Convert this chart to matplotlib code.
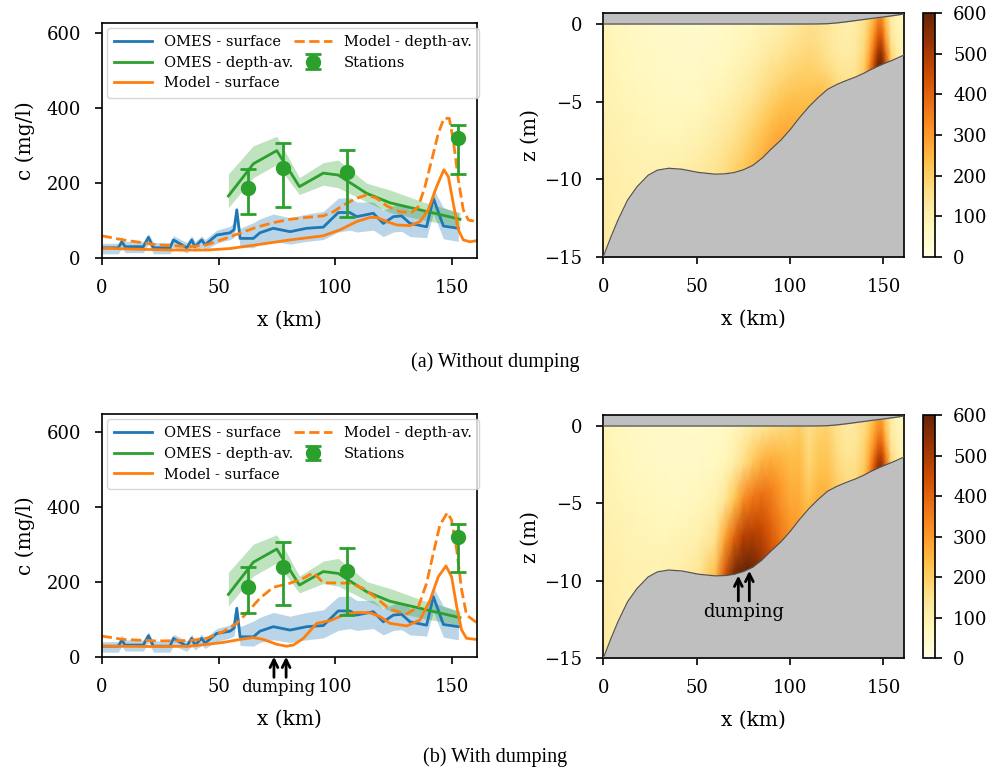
import numpy as np
import matplotlib
matplotlib.use('Agg')
import matplotlib.pyplot as plt

plt.rcParams['font.family'] = ['DejaVu Serif']
plt.rcParams['mathtext.fontset'] = 'dejavuserif'

# ---------------- line-plot data ----------------
omes_surf_x = [0, 7.1, 8.6, 10, 17.8, 20, 22.1, 29.2, 30.7, 36.4, 38.5, 39.9, 42.8, 44.2, 49.2,
               54.9, 56.6, 57.8, 59.2, 64.9, 67.7, 73.4, 80.6, 87.7, 94.8, 101.2, 106.2, 109.1,
               116.2, 120.5, 124.8, 128.3, 131.9, 139, 141.9, 146.2, 152.6]
omes_surf_c = [28, 28, 44, 31, 31, 56, 28, 28, 49, 28, 49, 31, 49, 36, 62,
               68, 76, 129, 53, 53, 68, 80, 71, 80, 83, 122, 122, 111,
               120, 93, 111, 113, 93, 84, 160, 86, 80]
omes_surf_hi = [40, 40, 58, 45, 45, 66, 42, 42, 60, 42, 60, 45, 60, 50, 75,
                85, 95, 140, 80, 95, 105, 118, 108, 118, 125, 160, 162, 150,
                150, 128, 140, 145, 130, 125, 185, 135, 120]
omes_surf_lo = [12, 12, 28, 15, 15, 38, 12, 12, 30, 14, 30, 18, 30, 22, 40,
                50, 55, 100, 30, 28, 38, 45, 38, 45, 50, 70, 75, 70,
                75, 58, 70, 72, 58, 55, 120, 52, 45]

omes_dav_x = [54.2, 64.9, 74.9, 84.6, 94.8, 101.2, 113.4, 123.3, 137.6, 153.3]
omes_dav_c = [166, 252, 287, 191, 227, 222, 173, 148, 127, 104]
omes_dav_hi = [225, 300, 325, 215, 255, 262, 200, 182, 150, 122]
omes_dav_lo = [135, 215, 250, 170, 195, 188, 150, 122, 102, 84]

stations_x = [62.5, 77.7, 104.8, 152.3]
stations_c = [187, 240, 229, 320]
stations_lo = [117, 138, 111, 225]
stations_hi = [238, 307, 289, 354]

# (a) without dumping
model_surf_a_x = [0, 16.4, 30.7, 44.9, 54.9, 66.3, 80.6, 94.8, 102, 109.1, 114.8, 117.6, 121.9,
                  126.2, 131.9, 136.2, 139.7, 143.3, 146.4, 148.3, 150.4, 152.6, 154.7, 157.6, 160.4]
model_surf_a_c = [27, 24, 22, 22, 26, 36, 49, 60, 76, 98, 109, 109, 98,
                  89, 87, 98, 129, 191, 236, 218, 147, 76, 49, 44, 47]
model_dav_a_x = [0, 9.3, 23.5, 37.8, 44.9, 52, 59.2, 66.3, 73.4, 80.6, 87.7, 94.8, 99.1, 103.4,
                 109.1, 113.4, 117.6, 121.9, 127.6, 132.6, 135.5, 138.3, 141.2, 144, 146.4,
                 148.7, 150.4, 152.6, 154.7, 156.9, 160.4]
model_dav_a_c = [60, 49, 36, 31, 36, 51, 67, 83, 95, 104, 109, 113, 124, 142,
                 160, 169, 160, 140, 124, 122, 138, 191, 262, 333, 373,
                 373, 316, 209, 129, 102, 98]

# (b) with dumping
model_surf_b_x = [0, 23.5, 37.8, 52, 59.2, 64.9, 69.2, 74.9, 79.1, 82, 86.3, 92, 97.7, 103.4,
                  109.1, 114.8, 119.1, 123.3, 130.5, 136.2, 140.5, 144, 147.3, 149.7, 151.9,
                  154, 156.1, 160.4]
model_surf_b_c = [28, 27, 28, 38, 46, 51, 46, 33, 28, 31, 49, 89, 96, 111,
                  118, 117, 107, 89, 82, 98, 151, 213, 242, 213, 133,
                  71, 49, 46]
model_dav_b_x = [0, 9.3, 23.5, 37.8, 44.9, 52, 57.8, 62, 67.7, 73.4, 80.6, 86.3, 90.6, 94.8,
                 106.2, 111.9, 117.6, 123.3, 130.5, 135.5, 139, 141.9, 144.7, 147.9, 149.7,
                 151.9, 154, 156.1, 160.4]
model_dav_b_c = [55, 46, 42, 43, 49, 67, 89, 116, 156, 185, 196, 209, 224, 197,
                 196, 182, 156, 126, 114, 133, 196, 276, 351, 384, 364,
                 284, 178, 111, 91]

dump_x = [73.7, 78.9]

# ---------------- section (heatmap) data ----------------
x_nodes = [0, 4, 8, 13, 18, 24, 29, 35, 42, 51, 60, 65, 70, 75, 80, 85, 90, 95, 100, 105,
           110, 115, 120, 125, 130, 135, 140, 143, 145, 147, 149, 151, 154, 157, 161]
bed_z = [-15.0, -13.75, -12.6, -11.35, -10.5, -9.75, -9.42, -9.3, -9.36, -9.57, -9.68, -9.66,
         -9.58, -9.4, -9.12, -8.65, -8.05, -7.5, -6.82, -6.05, -5.35, -4.75, -4.22, -3.9,
         -3.65, -3.42, -3.15, -2.95, -2.84, -2.73, -2.62, -2.52, -2.38, -2.22, -2.0]
surf_z = [0, 0, 0, 0, 0, 0, 0, 0, 0, 0, 0, 0, 0, 0, 0, 0, 0, 0, 0, 0,
          0, 0.005, 0.02, 0.07, 0.14, 0.22, 0.30, 0.35, 0.38, 0.41, 0.44, 0.47, 0.52, 0.57, 0.65]
sigma_levels = [0.0, 0.25, 0.5, 0.75, 1.0]

# concentration (mg/l), surface -> bottom, one row per x node
conc_a = [
    [85, 95, 105, 115, 125], [80, 88, 98, 108, 118], [75, 82, 92, 102, 112],
    [68, 75, 85, 95, 105], [62, 70, 80, 90, 100], [58, 65, 75, 85, 98],
    [55, 60, 70, 82, 98], [52, 57, 67, 80, 100], [50, 55, 65, 82, 105],
    [50, 56, 70, 92, 125], [52, 62, 85, 115, 150], [55, 68, 95, 130, 170],
    [60, 78, 108, 150, 195], [68, 90, 125, 170, 215], [75, 100, 140, 190, 240],
    [85, 115, 160, 210, 260], [95, 130, 175, 225, 275], [105, 140, 185, 235, 280],
    [120, 155, 190, 235, 270], [135, 160, 190, 225, 255], [155, 170, 190, 215, 240],
    [150, 160, 175, 205, 245], [135, 140, 150, 180, 215], [115, 118, 125, 145, 175],
    [105, 110, 115, 130, 150], [115, 120, 125, 135, 150], [155, 165, 180, 195, 215],
    [210, 240, 270, 310, 360], [260, 300, 350, 410, 470], [330, 380, 440, 520, 590],
    [340, 390, 460, 540, 610], [230, 270, 320, 390, 460], [120, 130, 150, 180, 210],
    [85, 90, 100, 110, 120], [75, 78, 82, 88, 95]]
conc_b = [
    [85, 95, 105, 115, 125], [80, 88, 98, 108, 118], [75, 82, 92, 102, 112],
    [68, 75, 85, 95, 105], [62, 70, 80, 90, 100], [58, 65, 75, 85, 98],
    [55, 60, 70, 82, 98], [52, 57, 67, 80, 100], [50, 55, 66, 85, 110],
    [50, 57, 75, 100, 140], [55, 68, 95, 150, 240], [60, 80, 140, 280, 430],
    [75, 110, 220, 400, 580], [95, 160, 320, 480, 620], [115, 210, 360, 480, 590],
    [135, 250, 370, 450, 520], [155, 260, 340, 390, 440], [170, 245, 295, 330, 370],
    [180, 225, 255, 280, 310], [200, 230, 250, 265, 285], [160, 170, 185, 210, 240],
    [185, 205, 220, 240, 260], [190, 205, 220, 235, 255], [150, 160, 170, 185, 205],
    [125, 130, 140, 155, 170], [130, 135, 145, 155, 170], [165, 175, 190, 205, 225],
    [210, 235, 265, 300, 340], [250, 280, 320, 380, 440], [290, 330, 390, 460, 530],
    [300, 340, 400, 470, 550], [210, 240, 290, 350, 410], [115, 125, 140, 165, 190],
    [85, 90, 100, 110, 120], [75, 78, 82, 88, 95]]

# ---------------- figure ----------------
W, H = 991, 769
fig = plt.figure(figsize=(W / 100, H / 100), dpi=100)

def fax(l, t, r, b):
    return fig.add_axes([l / W, 1 - b / H, (r - l) / W, (b - t) / H])

TICK = 13
LAB = 14.5

def style(ax):
    ax.tick_params(direction='out', length=5, width=1.2, pad=10, labelsize=TICK)
    for s in ax.spines.values():
        s.set_linewidth(1.2)

def line_panel(ax, ms_x, ms_c, md_x, md_c, ylim_top):
    ax.fill_between(omes_surf_x, omes_surf_lo, omes_surf_hi, color='tab:blue', alpha=0.3, lw=0)
    ax.fill_between(omes_dav_x, omes_dav_lo, omes_dav_hi, color='tab:green', alpha=0.3, lw=0)
    h1, = ax.plot(omes_surf_x, omes_surf_c, color='tab:blue', lw=2, label='OMES - surface')
    h2, = ax.plot(omes_dav_x, omes_dav_c, color='tab:green', lw=2, label='OMES - depth-av.')
    h3, = ax.plot(ms_x, ms_c, color='tab:orange', lw=2, label='Model - surface')
    h4, = ax.plot(md_x, md_c, color='tab:orange', lw=2, ls='--', label='Model - depth-av.')
    st = np.array(stations_c)
    yerr = [st - np.array(stations_lo), np.array(stations_hi) - st]
    h5 = ax.errorbar(stations_x, stations_c, yerr=yerr, fmt='o', color='tab:green', ms=10,
                     capsize=6, elinewidth=2, capthick=2, label='Stations')
    ax.set_xlim(0, 160.7)
    ax.set_ylim(0, ylim_top)
    ax.set_xticks([0, 50, 100, 150])
    ax.set_yticks([0, 200, 400, 600])
    ax.set_xlabel('x (km)', fontsize=LAB, labelpad=10)
    ax.set_ylabel('c (mg/l)', fontsize=LAB, labelpad=8)
    ax.legend(handles=[h1, h2, h3, h4, h5], ncol=2, loc='upper left', fontsize=10.5,
              handlelength=2.6, columnspacing=0.1, borderaxespad=0.35, labelspacing=0.45,
              handletextpad=0.8, borderpad=0.5)
    style(ax)

def section_panel(ax, conc, ytop):
    xn = np.array(x_nodes, dtype=float)
    bed = np.array(bed_z)
    srf = np.array(surf_z)
    s = np.array(sigma_levels)
    X = np.repeat(xn[:, None], len(s), axis=1)
    Z = srf[:, None] + s[None, :] * (bed - srf)[:, None]
    pm = ax.pcolormesh(X, Z, np.array(conc, dtype=float), shading='gouraud',
                       cmap='YlOrBr', vmin=0, vmax=600, zorder=1)
    ax.fill_between(xn, bed, -16, color='#bfbfbf', zorder=2, lw=0)
    ax.fill_between(xn, srf, 2, color='#bfbfbf', zorder=2, lw=0)
    ax.plot(xn, bed, color='#555555', lw=0.9, zorder=3)
    ax.plot(xn, srf, color='#555555', lw=0.9, zorder=3)
    ax.set_xlim(0, 161)
    ax.set_ylim(-15, ytop)
    ax.set_xticks([0, 50, 100, 150])
    ax.set_yticks([0, -5, -10, -15])
    ax.set_xlabel('x (km)', fontsize=LAB, labelpad=10)
    ax.set_ylabel('z (m)', fontsize=LAB, labelpad=3)
    style(ax)
    return pm

def colorbar(pm, l, t, r, b):
    cax = fax(l, t, r, b)
    cb = fig.colorbar(pm, cax=cax)
    cb.set_ticks([0, 100, 200, 300, 400, 500, 600])
    cax.tick_params(direction='out', length=5, width=1.2, pad=8, labelsize=TICK)
    cb.outline.set_linewidth(1.2)

# (a)
axA = fax(101.7, 22.7, 477.3, 258.3)
line_panel(axA, model_surf_a_x, model_surf_a_c, model_dav_a_x, model_dav_a_c, 628)
axAs = fax(603.3, 13.3, 904, 256.7)
pmA = section_panel(axAs, conc_a, 0.69)
colorbar(pmA, 922.7, 13.3, 935, 256.7)

# (b)
axB = fax(101.7, 414, 477.3, 656.7)
line_panel(axB, model_surf_b_x, model_surf_b_c, model_dav_b_x, model_dav_b_c, 647)
axBs = fax(603.3, 415, 904, 658.3)
pmB = section_panel(axBs, conc_b, 0.71)
colorbar(pmB, 922.7, 415, 935, 658.3)

# dumping annotations
for xd in dump_x:
    axB.annotate('', xy=(xd, 0), xytext=(xd, -55), annotation_clip=False,
                 arrowprops=dict(arrowstyle='->', lw=2, color='k', mutation_scale=14,
                                 shrinkA=0, shrinkB=0))
axB.text(75.5, -82, 'dumping', ha='center', va='center', fontsize=12, clip_on=False)

bed_at = {72.3: -9.56, 78.2: -9.25}
for xd, zb in bed_at.items():
    axBs.annotate('', xy=(xd, zb - 0.1), xytext=(xd, -11.3),
                  arrowprops=dict(arrowstyle='->', lw=2, color='k', mutation_scale=14,
                                  shrinkA=0, shrinkB=0), zorder=5)
axBs.text(75.4, -12.0, 'dumping', ha='center', va='center', fontsize=13, zorder=5)

cap = dict(ha='center', va='center', fontsize=14.5, family=['Liberation Serif'])
fig.text(495 / W, 1 - 362 / H, '(a) Without dumping', **cap)
fig.text(495 / W, 1 - 757 / H, '(b) With dumping', **cap)

fig.savefig('out.png', dpi=100)
